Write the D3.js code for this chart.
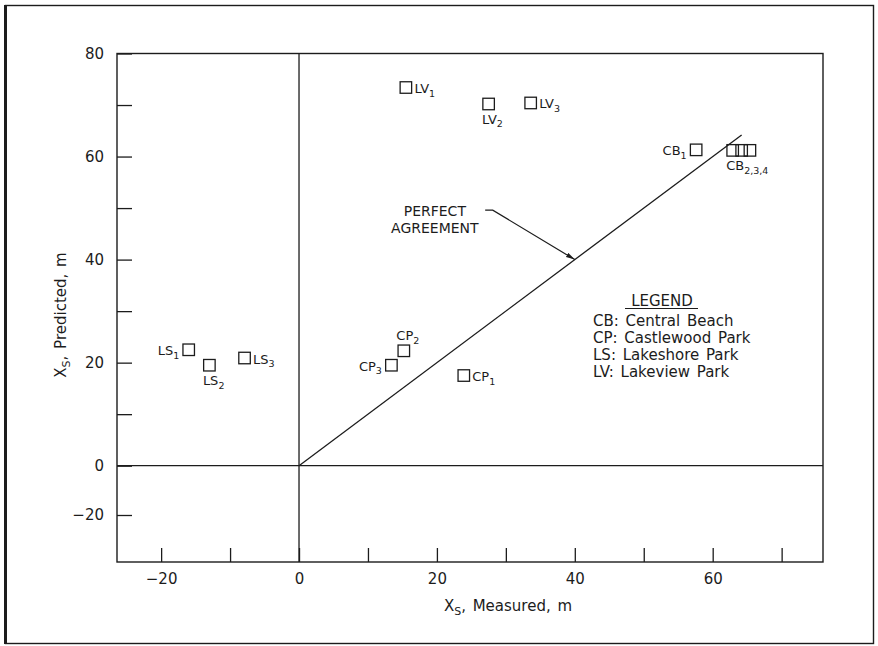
<!DOCTYPE html>
<html>
<head>
<meta charset="utf-8">
<script src="https://cdn.jsdelivr.net/npm/d3@7"></script>
<style>
    body { margin: 0; background: #fff; }
    svg { display: block; font-family: "DejaVu Sans", sans-serif; }
</style>
</head>
<body>
<script>
(function() {

    // values
    var pointNames = ["LV1", "LV2", "LV3", "CB1", "CB2", "CB3", "CB4", "CP1", "CP2", "CP3", "LS1", "LS2", "LS3"];
    var measured   = [15.5, 27.5, 33.6, 57.6, 62.9, 64.2, 65.4, 23.9, 15.2, 13.4, -16.0, -13.0, -7.9];
    var predicted  = [73.4, 70.2, 70.4, 61.3, 61.2, 61.2, 61.2, 17.5, 22.3, 19.5, 22.5, 19.5, 20.9];
    var labelCodes = ["LV", "LV", "LV", "CB", "CB", "", "", "CP", "CP", "CP", "LS", "LS", "LS"];
    var labelSubs  = ["1", "2", "3", "1", "2,3,4", "", "", "1", "2", "3", "1", "2", "3"];

    var xTicks = [-20, -10, 0, 10, 20, 30, 40, 50, 60, 70];
    var xTickLabels = [-20, 0, 20, 40, 60];
    var yTicks = [-20, 0, 10, 20, 30, 40, 50, 60, 70, 80];
    var yTickLabels = [-20, 0, 20, 40, 60, 80];

    var agreementLine = [0, 64.2];
    var annotationText = ["PERFECT", "AGREEMENT"];
    var annotationAt = [19.7, 48.5];
    var annotationArrow = [[27.0, 49.6], [28.1, 49.6], [40, 40]];

    var legendCodes = ["CB", "CP", "LS", "LV"];
    var legendNames = ["Central Beach", "Castlewood Park", "Lakeshore Park", "Lakeview Park"];

    // where each label sits relative to its square
    var labelSide = {
        LV1: "right", LV2: "below", LV3: "right", CB1: "left", CB2: "below",
        CP1: "right", CP2: "above", CP3: "left", LS1: "left", LS2: "below", LS3: "right"
    };

    window.onload = setChart();

    function setChart() {
        var width = 878,
            height = 646,
            ink = "#1c1c1c";

        var svg = d3.select("body")
            .append("svg")
            .attr("width", width)
            .attr("height", height);

        // outer frame
        svg.append("rect")
            .attr("x", 5.5).attr("y", 5.5)
            .attr("width", 868).attr("height", 638)
            .attr("fill", "none")
            .attr("stroke", ink)
            .attr("stroke-width", 1.4);
        svg.append("line")
            .attr("x1", 5.5).attr("x2", 5.5)
            .attr("y1", 5).attr("y2", 644)
            .attr("stroke", ink)
            .attr("stroke-width", 3);

        var x = d3.scaleLinear()
            .domain([-26.4, 76])
            .range([117, 823]);

        // the negative part of the y axis is squeezed in the original
        var y = d3.scaleLinear()
            .domain([-39, -20, 0, 80])
            .range([562, 515, 465.7, 53.5]);

        var fmt = d3.format("");

        var xAxis = d3.axisBottom(x)
            .tickValues(xTicks)
            .tickSizeInner(-14)
            .tickSizeOuter(0)
            .tickPadding(11)
            .tickFormat(function(d){
                return xTickLabels.indexOf(d) >= 0 ? fmt(d) : "";
            });

        var yAxis = d3.axisLeft(y)
            .tickValues(yTicks)
            .tickSizeInner(-15)
            .tickSizeOuter(0)
            .tickPadding(13)
            .tickFormat(function(d){
                return yTickLabels.indexOf(d) >= 0 ? fmt(d) : "";
            });

        var gx = svg.append("g")
            .attr("transform", "translate(0," + y(-39) + ")")
            .call(xAxis);
        var gy = svg.append("g")
            .attr("transform", "translate(" + x(-26.4) + ",0)")
            .call(yAxis);

        [gx, gy].forEach(function(g){
            g.select(".domain").remove();
            g.attr("font-family", null).attr("font-size", 15);
            g.selectAll("line").attr("stroke", ink).attr("stroke-width", 1.3);
            g.selectAll("text").attr("fill", ink);
        });

        // plot box
        svg.append("rect")
            .attr("x", x(-26.4)).attr("y", y(80))
            .attr("width", x(76) - x(-26.4))
            .attr("height", y(-39) - y(80))
            .attr("fill", "none")
            .attr("stroke", ink)
            .attr("stroke-width", 1.4);

        // zero lines
        svg.append("line")
            .attr("x1", x(0)).attr("x2", x(0))
            .attr("y1", y(80)).attr("y2", y(-39))
            .attr("stroke", ink).attr("stroke-width", 1.3);
        svg.append("line")
            .attr("x1", x(-26.4)).attr("x2", x(76))
            .attr("y1", y(0)).attr("y2", y(0))
            .attr("stroke", ink).attr("stroke-width", 1.3);

        // perfect agreement line
        svg.append("line")
            .attr("x1", x(agreementLine[0])).attr("y1", y(agreementLine[0]))
            .attr("x2", x(agreementLine[1])).attr("y2", y(agreementLine[1]))
            .attr("stroke", ink).attr("stroke-width", 1.3);

        setAnnotation(svg, x, y, ink);
        setPoints(svg, x, y, ink);
        setLegend(svg, ink);
        setTitles(svg, ink);
    }; // setChart function


    function setAnnotation(svg, x, y, ink) {
        svg.append("defs").append("marker")
            .attr("id", "arrow")
            .attr("markerUnits", "userSpaceOnUse")
            .attr("viewBox", "0 -3 9 6")
            .attr("refX", 9).attr("refY", 0)
            .attr("markerWidth", 9).attr("markerHeight", 6)
            .attr("orient", "auto")
            .append("path")
            .attr("d", "M0,-2.4L9,0L0,2.4Z")
            .attr("fill", ink);

        svg.append("path")
            .attr("d", d3.line()
                .x(function(d){ return x(d[0]); })
                .y(function(d){ return y(d[1]); })(annotationArrow))
            .attr("fill", "none")
            .attr("stroke", ink)
            .attr("stroke-width", 1.2)
            .attr("marker-end", "url(#arrow)");

        svg.append("text")
            .attr("x", x(annotationAt[0]))
            .attr("y", y(annotationAt[1]))
            .attr("text-anchor", "middle")
            .attr("font-size", 14)
            .attr("fill", ink)
            .selectAll("tspan")
            .data(annotationText)
            .enter()
            .append("tspan")
            .attr("x", x(annotationAt[0]))
            .attr("dy", function(d, i){ return i == 0 ? 0 : 17; })
            .text(function(d){ return d; });
    }; // setAnnotation function


    function setPoints(svg, x, y, ink) {
        var size = 11.5;

        var pts = pointNames.map(function(name, i){
            return { name: name, mx: measured[i], py: predicted[i], code: labelCodes[i], sub: labelSubs[i] };
        });

        svg.selectAll(".pt")
            .data(pts)
            .enter()
            .append("rect")
            .attr("class", "pt")
            .attr("x", function(d){ return x(d.mx) - size / 2; })
            .attr("y", function(d){ return y(d.py) - size / 2; })
            .attr("width", size)
            .attr("height", size)
            .attr("fill", "none")
            .attr("stroke", ink)
            .attr("stroke-width", 1.3);

        var labelled = pts.filter(function(d){ return d.code != ""; });

        var labels = svg.selectAll(".lab")
            .data(labelled)
            .enter()
            .append("text")
            .attr("class", "lab")
            .attr("font-size", 13)
            .attr("fill", ink)
            .attr("text-anchor", function(d){
                return labelSide[d.name] == "left" ? "end" : "start";
            })
            .attr("x", function(d){
                var side = labelSide[d.name], cx = x(d.mx);
                if (side == "right") return cx + 8.5;
                if (side == "left") return cx - 9.5;
                if (side == "below") return cx - 6.5;
                return cx - 7.5;
            })
            .attr("y", function(d){
                var side = labelSide[d.name], cy = y(d.py);
                if (side == "below") return cy + 20;
                if (side == "above") return cy - 10.5;
                return cy + 5.5;
            });

        labels.append("tspan")
            .text(function(d){ return d.code; });
        labels.append("tspan")
            .attr("font-size", 9.5)
            .attr("dy", 3.5)
            .text(function(d){ return d.sub; });
    }; // setPoints function


    function setLegend(svg, ink) {
        svg.append("text")
            .attr("x", 662)
            .attr("y", 306)
            .attr("text-anchor", "middle")
            .attr("font-size", 15)
            .attr("fill", ink)
            .text("LEGEND");
        svg.append("line")
            .attr("x1", 625).attr("x2", 698)
            .attr("y1", 308.5).attr("y2", 308.5)
            .attr("stroke", ink)
            .attr("stroke-width", 1.2);

        svg.selectAll(".leg")
            .data(legendCodes)
            .enter()
            .append("text")
            .attr("class", "leg")
            .attr("x", 593)
            .attr("y", function(d, i){ return 326 + i * 17; })
            .attr("font-size", 15)
            .attr("word-spacing", 2)
            .attr("fill", ink)
            .text(function(d, i){ return d + ": " + legendNames[i]; });
    }; // setLegend function


    function setTitles(svg, ink) {
        var xt = svg.append("text")
            .attr("x", 508)
            .attr("y", 611)
            .attr("text-anchor", "middle")
            .attr("font-size", 15)
            .attr("word-spacing", 2)
            .attr("fill", ink);
        xt.append("tspan").text("X");
        xt.append("tspan").attr("font-size", 11).attr("dy", 4).text("S");
        xt.append("tspan").attr("dy", -4).text(", Measured, m");

        var yt = svg.append("text")
            .attr("transform", "translate(66,315) rotate(-90)")
            .attr("text-anchor", "middle")
            .attr("font-size", 15)
            .attr("word-spacing", 2)
            .attr("fill", ink);
        yt.append("tspan").text("X");
        yt.append("tspan").attr("font-size", 11).attr("dy", 4).text("S");
        yt.append("tspan").attr("dy", -4).text(", Predicted, m");
    }; // setTitles function

})();
</script>
</body>
</html>
